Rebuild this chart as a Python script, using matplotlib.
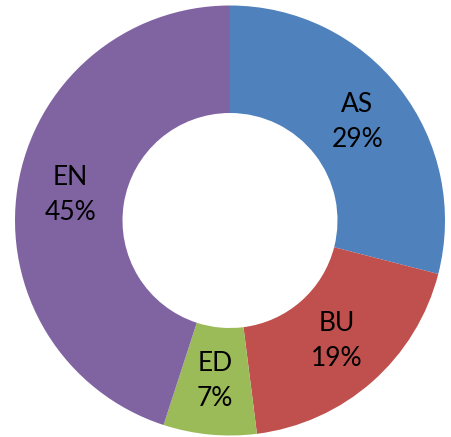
import matplotlib
matplotlib.use("Agg")
import matplotlib.pyplot as plt
import numpy as np

categories = ["AS", "BU", "ED", "EN"]
values = [29, 19, 7, 45]
colors = ["#4F81BD", "#C0504D", "#9BBB59", "#8064A2"]

plt.rcParams["font.family"] = ["Lato", "DejaVu Sans"]

W, H = 452, 437
fig = plt.figure(figsize=(W / 100, H / 100), dpi=100)
ax = fig.add_axes([0, 0, 1, 1])

# donut, starting at 12 o'clock, going clockwise
wedges, _ = ax.pie(
    values,
    colors=colors,
    startangle=90,
    counterclock=False,
    radius=1.0,
    wedgeprops=dict(width=0.5, linewidth=0),
)

# labels in the middle of the ring
for w, cat, val in zip(wedges, categories, values):
    ang = np.deg2rad((w.theta1 + w.theta2) / 2)
    r = 0.75
    ax.text(r * np.cos(ang), r * np.sin(ang), f"{cat}\n{val}%",
            ha="center", va="center", fontsize=19, linespacing=1.5,
            color="black")

# place the circle where it sits in the reference
R = 215.0
cx, cy = 230.0, H - 220.5
ax.set_xlim(-cx / R, (W - cx) / R)
ax.set_ylim(-cy / R, (H - cy) / R)
ax.set_aspect("auto")
ax.axis("off")

fig.savefig("out.png", dpi=100)
